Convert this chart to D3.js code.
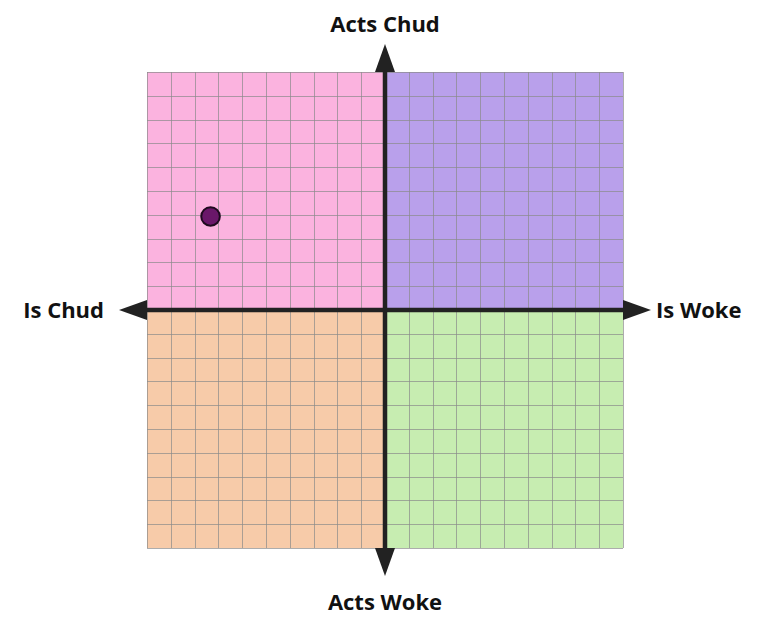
<!DOCTYPE html>
<html>
<head>
<meta charset="utf-8">
<script src="https://cdn.jsdelivr.net/npm/d3@7"></script>
<style>
  html, body { margin: 0; padding: 0; background: #ffffff; }
  svg { display: block; }
  text { font-family: "Open Sans", "Noto Sans", sans-serif; font-weight: 700; fill: #111; }
</style>
</head>
<body>
<svg id="chart" width="770" height="620"></svg>
<script>
// Data
const quadrantNames = ["topLeft", "topRight", "bottomLeft", "bottomRight"];
const quadrantX0 = [-10, 0, -10, 0];
const quadrantY0 = [0, 0, -10, -10];
const quadrantColors = ["#fbb3df", "#b9a0eb", "#f7cba9", "#c7edb1"];
const gridTicks = d3.range(-10, 11, 1);
const axisLabels = ["Acts Chud", "Acts Woke", "Is Chud", "Is Woke"];
const pointX = [-7.33];
const pointY = [3.93];

(function () {
const svg = d3.select("#chart");
const pLeft = 147, pRight = 623, pTop = 72, pBottom = 548;
const x = d3.scaleLinear().domain([-10, 10]).range([pLeft, pRight]);
const y = d3.scaleLinear().domain([-10, 10]).range([pBottom, pTop]);

// quadrants
svg.append("g").selectAll("rect")
  .data(quadrantNames)
  .join("rect")
  .attr("x", (d, i) => x(quadrantX0[i]))
  .attr("y", (d, i) => y(quadrantY0[i] + 10))
  .attr("width", (d, i) => x(quadrantX0[i] + 10) - x(quadrantX0[i]))
  .attr("height", (d, i) => y(quadrantY0[i]) - y(quadrantY0[i] + 10))
  .attr("fill", (d, i) => quadrantColors[i]);

// grid
const grid = svg.append("g").attr("stroke", "#8a8a8a").attr("stroke-opacity", 0.7).attr("stroke-width", 1);
grid.selectAll("line.v").data(gridTicks).join("line").attr("class", "v")
  .attr("x1", d => Math.round(x(d)) + 0.5).attr("x2", d => Math.round(x(d)) + 0.5)
  .attr("y1", y(10)).attr("y2", y(-10));
grid.selectAll("line.h").data(gridTicks).join("line").attr("class", "h")
  .attr("y1", d => Math.round(y(d)) + 0.5).attr("y2", d => Math.round(y(d)) + 0.5)
  .attr("x1", x(-10)).attr("x2", x(10));

// axes
const axisColor = "#222";
const ext = 28, hw = 10;
const ag = svg.append("g");
ag.append("line").attr("x1", x(0)).attr("x2", x(0)).attr("y1", y(10)).attr("y2", y(-10))
  .attr("stroke", axisColor).attr("stroke-width", 4.5);
ag.append("line").attr("x1", x(-10)).attr("x2", x(10)).attr("y1", y(0)).attr("y2", y(0))
  .attr("stroke", axisColor).attr("stroke-width", 4.5);
const cx0 = x(0), cy0 = y(0);
const arrows = [
  [[cx0, y(10) - ext], [cx0 - hw, y(10)], [cx0 + hw, y(10)]],
  [[cx0, y(-10) + ext], [cx0 - hw, y(-10)], [cx0 + hw, y(-10)]],
  [[x(-10) - ext, cy0], [x(-10), cy0 - hw], [x(-10), cy0 + hw]],
  [[x(10) + ext, cy0], [x(10), cy0 - hw], [x(10), cy0 + hw]]
];
ag.selectAll("path").data(arrows).join("path")
  .attr("d", d => "M" + d.map(p => p.join(",")).join("L") + "Z")
  .attr("fill", axisColor);

// labels
const fs = 22;
svg.append("text").text(axisLabels[0]).attr("x", cx0).attr("y", 31.5)
  .attr("text-anchor", "middle").attr("font-size", fs);
svg.append("text").text(axisLabels[1]).attr("x", cx0).attr("y", 610)
  .attr("text-anchor", "middle").attr("font-size", fs);
svg.append("text").text(axisLabels[2]).attr("x", 104).attr("y", cy0 + 8)
  .attr("text-anchor", "end").attr("font-size", fs);
svg.append("text").text(axisLabels[3]).attr("x", 656).attr("y", cy0 + 8)
  .attr("text-anchor", "start").attr("font-size", fs);

// points
svg.append("g").selectAll("circle").data(pointX).join("circle")
  .attr("cx", (d, i) => x(pointX[i]))
  .attr("cy", (d, i) => y(pointY[i]))
  .attr("r", 9.3)
  .attr("fill", "#6a1769")
  .attr("stroke", "#1e0a1e")
  .attr("stroke-width", 2);
})();
</script>
</body>
</html>
